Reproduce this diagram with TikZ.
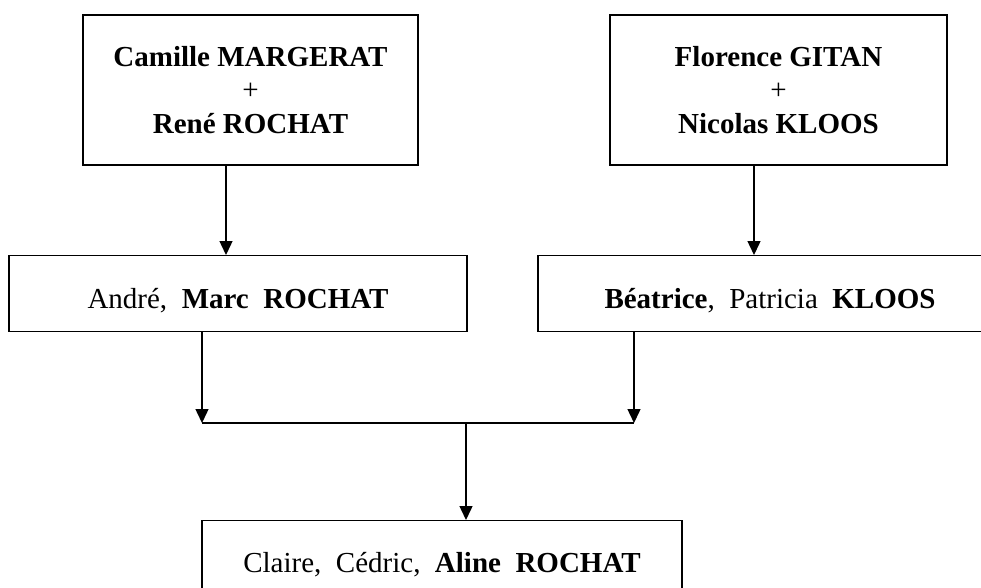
\documentclass[tikz,border=0pt]{standalone}
\usepackage{fontspec}
\setmainfont{Liberation Serif}
\usetikzlibrary{arrows.meta}
\tikzset{
  box/.style={draw, line width=1.4pt, inner sep=0pt, font=\fontsize{29}{33.5}\selectfont},
  conn/.style={line width=1.4pt},
  arr/.style={conn, -{Triangle[length=14pt,width=13pt]}}
}
\begin{document}
\begin{tikzpicture}[x=1pt,y=1pt]
\useasboundingbox (0,0) rectangle (981,-587);
\clip (0,0) rectangle (981,-587);
\fill[white] (0,0) rectangle (981,-587);
% parents
\node[box, align=center, minimum width=335pt, minimum height=150pt] (A) at (250.5,-90)
  {\textbf{Camille MARGERAT}\\+\\\textbf{René ROCHAT}};
\node[box, align=center, minimum width=337pt, minimum height=150pt] (B) at (778.5,-90)
  {\textbf{Florence GITAN}\\+\\\textbf{Nicolas KLOOS}};
% children
\node[box, anchor=north, minimum width=458pt, text height=53pt, text depth=23pt] (C) at (238,-255)
  {André,\ \ \textbf{Marc}\ \ \textbf{ROCHAT}};
\node[box, anchor=north, minimum width=464pt, text height=53pt, text depth=23pt] (D) at (770,-255)
  {\textbf{Béatrice},\ \ Patricia\ \ \textbf{KLOOS}};
% grandchildren
\node[box, anchor=north, minimum width=480pt, text height=52pt, text depth=44pt] (E) at (442,-520)
  {Claire,\ \ Cédric,\ \ \textbf{Aline}\ \ \textbf{ROCHAT}};
% junction
\coordinate (jl) at (202,-423);
\coordinate (jr) at (634,-423);
\coordinate (jm) at (466,-423);
% connectors
\draw[arr] ([xshift=-24.5pt]A.south) -- ([xshift=-12pt]C.north);
\draw[arr] ([xshift=-24.5pt]B.south) -- ([xshift=-16pt]D.north);
\draw[arr] ([xshift=-36pt]C.south) -- (jl);
\draw[arr] ([xshift=-136pt]D.south) -- (jr);
\draw[conn] (jl) -- (jr);
\draw[arr] (jm) -- ([xshift=24pt]E.north);
\end{tikzpicture}
\end{document}
